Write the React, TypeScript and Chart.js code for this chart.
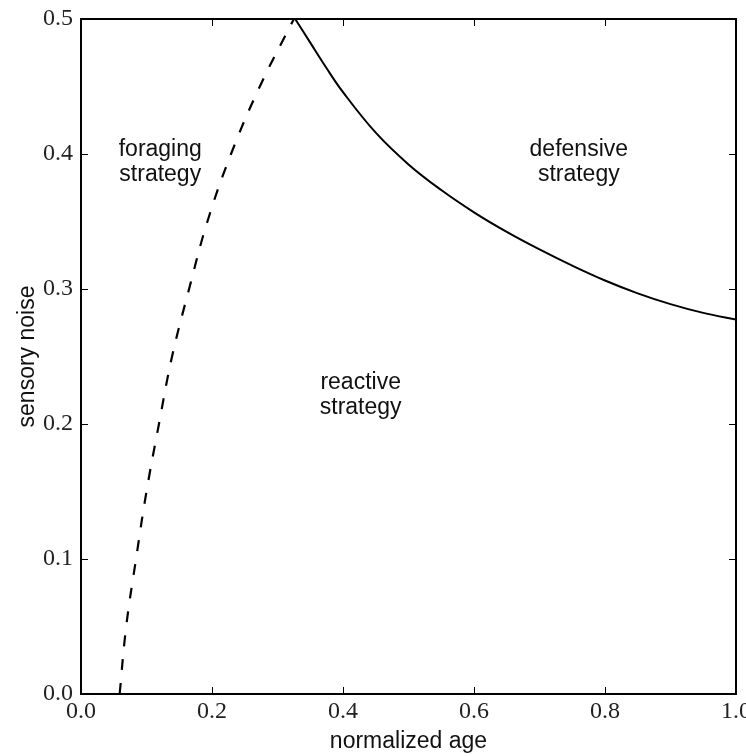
import React, { useEffect, useRef } from "react";
import { Chart, registerables } from "chart.js";
Chart.register(...registerables);

// Axis ticks
const xTickValues = [0, 0.2, 0.4, 0.6, 0.8, 1.0];
const yTickValues = [0, 0.1, 0.2, 0.3, 0.4, 0.5];

// Dashed boundary (foraging / reactive)
const foragingNoise = [0, 0.05, 0.1, 0.15, 0.2, 0.25, 0.3, 0.35, 0.4, 0.45, 0.5];
const foragingAge = [0.059, 0.069, 0.084, 0.1, 0.119, 0.139, 0.165, 0.193, 0.229, 0.273, 0.325];

// Solid boundary (defensive / reactive)
const defensiveAge = [0.327, 0.35, 0.375, 0.4, 0.45, 0.5, 0.55, 0.6, 0.65, 0.7, 0.75, 0.8, 0.85, 0.9, 0.95, 1.0];
const defensiveNoise = [0.5, 0.4825, 0.4635, 0.4458, 0.4158, 0.3923, 0.3733, 0.3568, 0.3423, 0.3293, 0.3173, 0.3063, 0.2968, 0.2888, 0.2823, 0.2773];

// Region labels
const regionText = [
  ["foraging", "strategy"],
  ["defensive", "strategy"],
  ["reactive", "strategy"],
];
const regionAge = [0.121, 0.76, 0.427];
const regionNoise = [0.394, 0.394, 0.221];

const xTitle = "normalized age";
const yTitle = "sensory noise";

const overlayPlugin = {
  id: "overlay",
  afterDraw(chart: any) {
    const { ctx, chartArea: a, scales } = chart;
    const xs = scales.x;
    const ys = scales.y;
    ctx.save();
    // frame
    ctx.strokeStyle = "#000";
    ctx.lineWidth = 2;
    ctx.strokeRect(a.left, a.top, a.right - a.left, a.bottom - a.top);
    // inward ticks on all sides
    ctx.lineWidth = 1;
    const tl = 7;
    xTickValues.forEach((v) => {
      const px = Math.round(xs.getPixelForValue(v)) + 0.5;
      ctx.beginPath();
      ctx.moveTo(px, a.bottom);
      ctx.lineTo(px, a.bottom - tl);
      ctx.moveTo(px, a.top);
      ctx.lineTo(px, a.top + tl);
      ctx.stroke();
    });
    yTickValues.forEach((v) => {
      const py = Math.round(ys.getPixelForValue(v)) + 0.5;
      ctx.beginPath();
      ctx.moveTo(a.left, py);
      ctx.lineTo(a.left + tl, py);
      ctx.moveTo(a.right, py);
      ctx.lineTo(a.right - tl, py);
      ctx.stroke();
    });
    // region labels
    ctx.fillStyle = "#111";
    ctx.font = '23px "Liberation Sans", Arial, sans-serif';
    ctx.textAlign = "center";
    ctx.textBaseline = "middle";
    const lh = 25;
    regionText.forEach((lines, i) => {
      const cx = xs.getPixelForValue(regionAge[i]);
      const cy = ys.getPixelForValue(regionNoise[i]);
      lines.forEach((t, j) => {
        ctx.fillText(t, cx, cy + (j - (lines.length - 1) / 2) * lh);
      });
    });
    ctx.restore();
  },
};

export default function App() {
  const ref = useRef<HTMLCanvasElement | null>(null);
  useEffect(() => {
    if (!ref.current) return;
    const chart = new Chart(ref.current, {
      type: "line",
      data: {
        datasets: [
          {
            label: "foraging boundary",
            data: foragingAge.map((x, i) => ({ x, y: foragingNoise[i] })),
            borderColor: "#000",
            borderWidth: 2.2,
            borderDash: [11, 13],
            pointRadius: 0,
            fill: false,
            tension: 0.4,
          },
          {
            label: "defensive boundary",
            data: defensiveAge.map((x, i) => ({ x, y: defensiveNoise[i] })),
            borderColor: "#000",
            borderWidth: 2,
            pointRadius: 0,
            fill: false,
            tension: 0.4,
          },
        ],
      },
      options: {
        animation: false,
        responsive: false,
        maintainAspectRatio: false,
        layout: { padding: { top: 19, right: 10, left: 0, bottom: 0 } },
        plugins: {
          legend: { display: false },
          tooltip: { enabled: false },
        },
        scales: {
          x: {
            type: "linear",
            min: 0,
            max: 1,
            grid: { display: false, drawTicks: false },
            border: { display: false },
            ticks: {
              stepSize: 0.2,
              padding: 3,
              maxRotation: 0,
              autoSkip: false,
              color: "#222",
              font: { family: '"Liberation Serif", serif', size: 24 },
              callback: (v: any) => Number(v).toFixed(1),
            },
            title: {
              display: true,
              text: xTitle,
              color: "#111",
              padding: { top: 0, bottom: 1 },
              font: { family: '"Liberation Sans", Arial, sans-serif', size: 23 },
            },
            afterFit: (s: any) => {
              s.height = 62;
              s.paddingLeft = 0;
              s.paddingRight = 0;
            },
          },
          y: {
            type: "linear",
            min: 0,
            max: 0.5,
            grid: { display: false, drawTicks: false },
            border: { display: false },
            ticks: {
              stepSize: 0.1,
              padding: 8,
              color: "#222",
              font: { family: '"Liberation Serif", serif', size: 24 },
              callback: (v: any) => Number(v).toFixed(1),
            },
            title: {
              display: true,
              text: yTitle,
              color: "#111",
              padding: { top: 14, bottom: 0 },
              font: { family: '"Liberation Sans", Arial, sans-serif', size: 23 },
            },
            afterFit: (s: any) => {
              s.width = 81;
              s.paddingTop = 0;
              s.paddingBottom = 0;
            },
          },
        },
      },
      plugins: [overlayPlugin],
    });
    return () => chart.destroy();
  }, []);
  return (
    <div style={{ position: "absolute", left: 0, top: 0, width: 746, height: 756, background: "#fff" }}>
      <canvas ref={ref} width={746} height={756} style={{ display: "block" }} />
    </div>
  );
}
